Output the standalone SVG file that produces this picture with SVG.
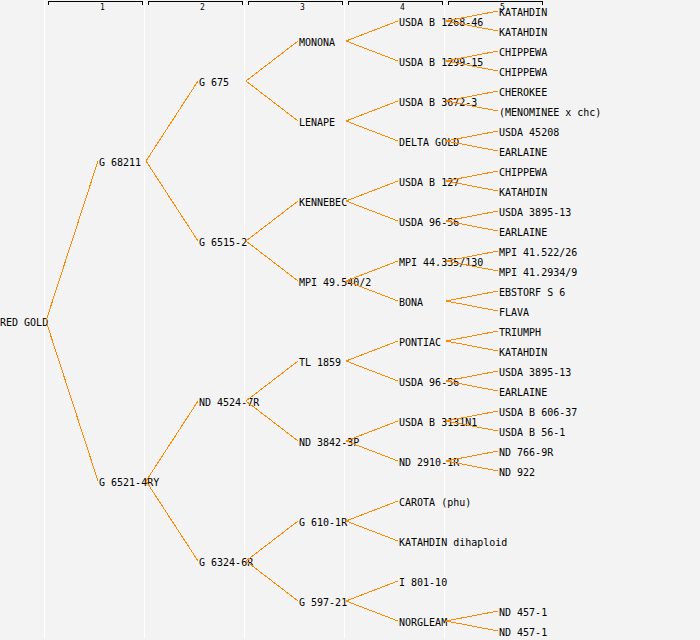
<svg xmlns="http://www.w3.org/2000/svg" width="700" height="640" viewBox="0 0 700 640">
<style>
.t{font-family:"DejaVu Sans Mono","Liberation Mono",monospace;font-size:10px;fill:#000}
.n{font-family:"DejaVu Sans Mono","Liberation Mono",monospace;font-size:8px;fill:#000}
.e{stroke:#ff8800;stroke-width:1;fill:none;shape-rendering:crispEdges}
.sep{stroke:#ffffff;stroke-width:1.5;shape-rendering:crispEdges}
.br{stroke:#000;stroke-width:1;fill:none;shape-rendering:crispEdges}
</style>
<rect width="700" height="640" fill="#f3f3f3"/>
<g id="columns">
<line class="sep" x1="44.5" y1="0" x2="44.5" y2="638"/>
<line class="sep" x1="144.5" y1="0" x2="144.5" y2="638"/>
<line class="sep" x1="244.5" y1="0" x2="244.5" y2="638"/>
<line class="sep" x1="344.5" y1="0" x2="344.5" y2="638"/>
<line class="sep" x1="444.5" y1="0" x2="444.5" y2="638"/>
<path class="br" d="M48.5,4.5V1.5H142.5V4.5M148.5,4.5V1.5H242.5V4.5M248.5,4.5V1.5H342.5V4.5M348.5,4.5V1.5H442.5V4.5M448.5,4.5V1.5H542.5V4.5"/>
<text class="n" x="100" y="9.5">1</text>
<text class="n" x="200" y="9.5">2</text>
<text class="n" x="300" y="9.5">3</text>
<text class="n" x="400" y="9.5">4</text>
<text class="n" x="500" y="9.5">5</text>
</g>
<g id="n0"><text class="t" x="0" y="326">RED GOLD</text></g>
<g id="n1a"><text class="t" x="99" y="166">G 68211</text></g>
<g id="n1b"><text class="t" x="99" y="486">G 6521-4RY</text></g>
<g id="n2a"><text class="t" x="199" y="86">G 675</text></g>
<g id="n2b"><text class="t" x="199" y="246">G 6515-2</text></g>
<g id="n2c"><text class="t" x="199" y="406">ND 4524-7R</text></g>
<g id="n2d"><text class="t" x="199" y="566">G 6324-6R</text></g>
<g id="n3a"><text class="t" x="299" y="46">MONONA</text></g>
<g id="n3b"><text class="t" x="299" y="126">LENAPE</text></g>
<g id="n3c"><text class="t" x="299" y="206">KENNEBEC</text></g>
<g id="n3d"><text class="t" x="299" y="286">MPI 49.540/2</text></g>
<g id="n3e"><text class="t" x="299" y="366">TL 1859</text></g>
<g id="n3f"><text class="t" x="299" y="446">ND 3842-3P</text></g>
<g id="n3g"><text class="t" x="299" y="526">G 610-1R</text></g>
<g id="n3h"><text class="t" x="299" y="606">G 597-21</text></g>
<g id="n4a"><text class="t" x="399" y="26">USDA B 1268-46</text></g>
<g id="n4b"><text class="t" x="399" y="66">USDA B 1299-15</text></g>
<g id="n4c"><text class="t" x="399" y="106">USDA B 3672-3</text></g>
<g id="n4d"><text class="t" x="399" y="146">DELTA GOLD</text></g>
<g id="n4e"><text class="t" x="399" y="186">USDA B 127</text></g>
<g id="n4f"><text class="t" x="399" y="226">USDA 96-56</text></g>
<g id="n4g"><text class="t" x="399" y="266">MPI 44.335/130</text></g>
<g id="n4h"><text class="t" x="399" y="306">BONA</text></g>
<g id="n4i"><text class="t" x="399" y="346">PONTIAC</text></g>
<g id="n4j"><text class="t" x="399" y="386">USDA 96-56</text></g>
<g id="n4k"><text class="t" x="399" y="426">USDA B 3131N1</text></g>
<g id="n4l"><text class="t" x="399" y="466">ND 2910-1R</text></g>
<g id="n4m"><text class="t" x="399" y="506">CAROTA (phu)</text></g>
<g id="n4n"><text class="t" x="399" y="546">KATAHDIN dihaploid</text></g>
<g id="n4o"><text class="t" x="399" y="586">I 801-10</text></g>
<g id="n4p"><text class="t" x="399" y="626">NORGLEAM</text></g>
<g id="n5a"><text class="t" x="499" y="16">KATAHDIN</text></g>
<g id="n5b"><text class="t" x="499" y="36">KATAHDIN</text></g>
<g id="n5c"><text class="t" x="499" y="56">CHIPPEWA</text></g>
<g id="n5d"><text class="t" x="499" y="76">CHIPPEWA</text></g>
<g id="n5e"><text class="t" x="499" y="96">CHEROKEE</text></g>
<g id="n5f"><text class="t" x="499" y="116">(MENOMINEE x chc)</text></g>
<g id="n5g"><text class="t" x="499" y="136">USDA 45208</text></g>
<g id="n5h"><text class="t" x="499" y="156">EARLAINE</text></g>
<g id="n5i"><text class="t" x="499" y="176">CHIPPEWA</text></g>
<g id="n5j"><text class="t" x="499" y="196">KATAHDIN</text></g>
<g id="n5k"><text class="t" x="499" y="216">USDA 3895-13</text></g>
<g id="n5l"><text class="t" x="499" y="236">EARLAINE</text></g>
<g id="n5m"><text class="t" x="499" y="256">MPI 41.522/26</text></g>
<g id="n5n"><text class="t" x="499" y="276">MPI 41.2934/9</text></g>
<g id="n5o"><text class="t" x="499" y="296">EBSTORF S 6</text></g>
<g id="n5p"><text class="t" x="499" y="316">FLAVA</text></g>
<g id="n5q"><text class="t" x="499" y="336">TRIUMPH</text></g>
<g id="n5r"><text class="t" x="499" y="356">KATAHDIN</text></g>
<g id="n5s"><text class="t" x="499" y="376">USDA 3895-13</text></g>
<g id="n5t"><text class="t" x="499" y="396">EARLAINE</text></g>
<g id="n5u"><text class="t" x="499" y="416">USDA B 606-37</text></g>
<g id="n5v"><text class="t" x="499" y="436">USDA B 56-1</text></g>
<g id="n5w"><text class="t" x="499" y="456">ND 766-9R</text></g>
<g id="n5x"><text class="t" x="499" y="476">ND 922</text></g>
<g id="n5y"><text class="t" x="499" y="616">ND 457-1</text></g>
<g id="n5z"><text class="t" x="499" y="636">ND 457-1</text></g>
<g id="connectors">
<path class="e" d="M46,321L98,161M46,321L98,481"/>
<path class="e" d="M146,161L198,81M146,161L198,241M146,481L198,401M146,481L198,561"/>
<path class="e" d="M246,81L298,41M246,81L298,121M246,241L298,201M246,241L298,281M246,401L298,361M246,401L298,441M246,561L298,521M246,561L298,601"/>
<path class="e" d="M346,41L398,21M346,41L398,61M346,121L398,101M346,121L398,141M346,201L398,181M346,201L398,221M346,281L398,261M346,281L398,301M346,361L398,341M346,361L398,381M346,441L398,421M346,441L398,461M346,521L398,501M346,521L398,541M346,601L398,581M346,601L398,621"/>
<path class="e" d="M446,21L498,11M446,21L498,31M446,61L498,51M446,61L498,71M446,101L498,91M446,101L498,111M446,141L498,131M446,141L498,151M446,181L498,171M446,181L498,191M446,221L498,211M446,221L498,231M446,261L498,251M446,261L498,271M446,301L498,291M446,301L498,311M446,341L498,331M446,341L498,351M446,381L498,371M446,381L498,391M446,421L498,411M446,421L498,431M446,461L498,451M446,461L498,471M446,621L498,611M446,621L498,631"/>
</g>
</svg>
